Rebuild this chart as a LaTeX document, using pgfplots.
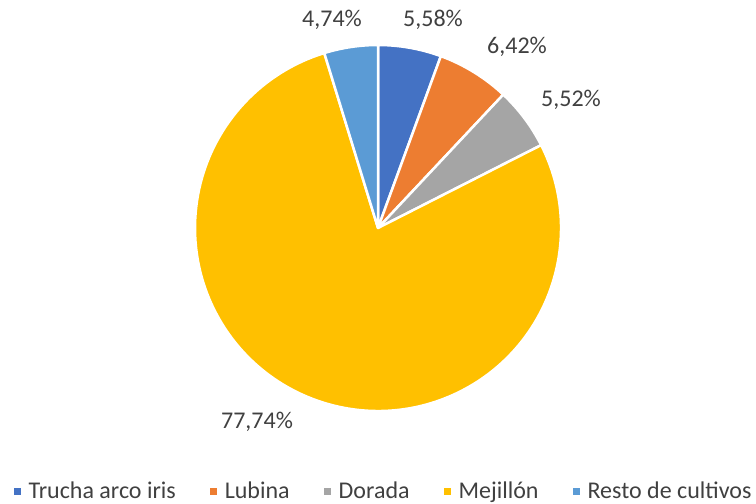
\documentclass[border=0pt]{standalone}
\usepackage{pgfplots}
\pgfplotsset{compat=1.18}
\usepackage{pgfplotstable}
\usepackage{fontspec}
\setmainfont{Carlito}
\definecolor{trucha}{HTML}{4472C4}
\definecolor{lubina}{HTML}{ED7D31}
\definecolor{dorada}{HTML}{A5A5A5}
\definecolor{mejillon}{HTML}{FFC000}
\definecolor{resto}{HTML}{5B9BD5}
\definecolor{txt}{HTML}{404040}
% porcentajes de cada cultivo (orden horario desde arriba)
\pgfplotstableread{
idx value col
0 5.58 trucha
1 6.42 lubina
2 5.52 dorada
3 77.74 mejillon
4 4.74 resto
}\piedata
\begin{document}
\begin{tikzpicture}
\useasboundingbox (0,0) rectangle (378pt,252pt);
\begin{axis}[
    scale only axis,
    width=378pt, height=252pt,
    xmin=0, xmax=756, ymin=0, ymax=504,
    hide axis,
    clip=false,
    legend columns=-1,
    legend style={draw=none, fill=none, at={(0.508,0.024)}, anchor=center,
        font=\fontsize{12}{14}\selectfont, text=txt,
        nodes={inner sep=1.5pt},
        /tikz/every odd column/.append style={column sep=2.5pt},
        /tikz/every even column/.append style={column sep=15.5pt}},
    legend image code/.code={\fill[#1, draw=none] (0pt,-1.75pt) rectangle (3.5pt,1.75pt);},
]
\xdef\cum{0}
\pgfplotsinvokeforeach{0,...,4}{
    \pgfplotstablegetelem{#1}{col}\of\piedata
    \let\slicecol\pgfplotsretval
    \pgfplotstablegetelem{#1}{value}\of\piedata
    \pgfmathsetmacro\angA{90-3.6*\cum}
    \pgfmathsetmacro\angB{90-3.6*(\cum+\pgfplotsretval)}
    \edef\cmd{\noexpand\fill[\slicecol, draw=white, line width=1.25pt, line join=round]
        (axis cs:378,276) -- ++(\angA:91.5pt)
        arc[start angle=\angA, end angle=\angB, radius=91.5pt] -- cycle;}
    \cmd
    \pgfmathsetmacro\newcum{\cum+\pgfplotsretval}
    \xdef\cum{\newcum}
}
\begin{scope}[every node/.style={text=txt, font=\fontsize{12}{14}\selectfont}]
\node at (axis cs:433,484) {5,58\%};
\node at (axis cs:517,457) {6,42\%};
\node at (axis cs:571,404) {5,52\%};
\node at (axis cs:257,82) {77,74\%};
\node at (axis cs:332,484) {4,74\%};
\end{scope}
\addlegendimage{fill=trucha}
\addlegendentry{Trucha arco iris}
\addlegendimage{fill=lubina}
\addlegendentry{Lubina}
\addlegendimage{fill=dorada}
\addlegendentry{Dorada}
\addlegendimage{fill=mejillon}
\addlegendentry{Mejillón}
\addlegendimage{fill=resto}
\addlegendentry{Resto de cultivos}
\end{axis}
\end{tikzpicture}
\end{document}
